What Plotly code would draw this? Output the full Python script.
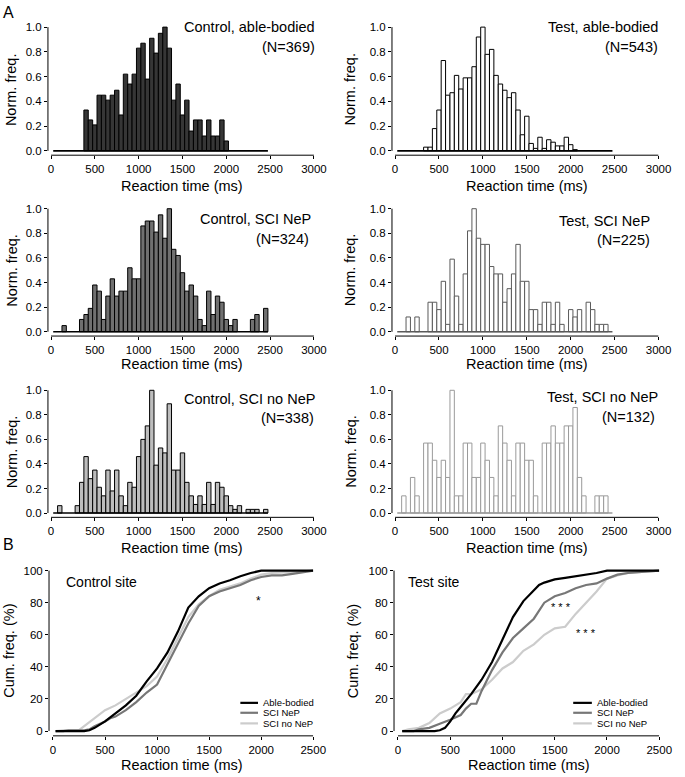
import plotly.graph_objects as go

W, H = 685, 777
FONT = "'Liberation Sans', Arial, Helvetica, sans-serif"

# ---------------- data ----------------
# histogram bin centres (ms), 50 ms bins
bin_centers = list(range(50, 2500, 50))

# normalised frequencies, 10 bins per row: 50-500, 550-1000, 1050-1500, 1550-2000, 2050-2450
ctrl_able = [0, 0, 0, 0, 0, 0, 0, .33, .25, .21,
             .45, .45, .41, .45, .49, .29, .62, .54, .62, .83,
             .87, .58, .91, .79, .95, 1.0, .83, .41, .54, .29,
             .41, .16, .25, .25, .12, .25, .12, .12, .25, .08,
             0, 0, 0, 0, 0, 0, 0, 0, 0]
test_able = [0, 0, 0, 0, 0, 0, .03, .03, .18, .33,
             .73, .45, .47, .61, .50, .59, .59, .68, .92, 1.0,
             .78, .82, .61, .54, .49, .43, .47, .33, .13, .28,
             .06, .02, .11, .02, .09, .07, .04, .04, .11, .05,
             .01, 0, 0, 0, 0, 0, 0, 0, 0]
ctrl_nep = [0, 0, .05, 0, 0, 0, .10, .14, .19, .38,
            .33, .10, .29, .43, .29, .33, .33, .52, .43, .43,
            .86, .90, .90, .81, .95, .76, 1.0, .67, .62, .48,
            .33, .38, .29, .10, .05, .33, .14, .29, .24, .10,
            .05, .10, 0, 0, 0, .10, .14, 0, .19]
test_nep = [0, 0, .12, 0, .12, 0, 0, .24, .24, .18,
            .41, .06, .59, .29, .06, .47, .82, 1.0, .76, .71,
            .71, .53, .47, .47, .24, .35, .47, .71, .41, .41,
            .18, .18, .06, .24, .24, .06, .24, .06, 0, .18,
            .12, .18, 0, .24, .18, .06, .06, .06, 0]
ctrl_nonep = [0, .06, 0, 0, 0, .06, .25, .46, .28, .35,
              .21, .14, .35, .18, .35, .14, .06, .25, .21, .46,
              .60, .71, 1.0, .39, .53, .49, .89, .35, .35, .49,
              .25, .14, .07, .14, .07, .25, .07, .25, .21, .14,
              .06, .03, .06, 0, .03, .03, .03, 0, .03]
test_nonep = [0, .14, 0, .29, .14, 0, .57, .57, .43, .29,
              .43, .29, 1.0, .14, .14, .57, .57, .29, .29, .57,
              .43, .29, .14, .71, .57, .43, .14, .57, .57, .43,
              .43, .14, 0, .57, .57, .71, .57, .57, .71, .71,
              .86, .29, .14, 0, 0, .14, .14, .14, 0]

hist_titles = ["Control, able-bodied", "Test, able-bodied",
               "Control, SCI NeP", "Test, SCI NeP",
               "Control, SCI no NeP", "Test, SCI no NeP"]
hist_n = ["(N=369)", "(N=543)", "(N=324)", "(N=225)", "(N=338)", "(N=132)"]

# cumulative frequency curves (%)
c_able_x = [25, 300, 350, 400, 500, 600, 700, 800, 900, 1000, 1100, 1200, 1300, 1400,
            1500, 1600, 1700, 1800, 1900, 2000, 2500]
c_able_y = [0, 0, 0.5, 2, 6, 11, 16, 22, 31, 39, 49, 62, 77, 84, 89, 92, 94, 96.5, 98.5, 100, 100]
c_nep_x = [25, 100, 150, 300, 350, 400, 500, 550, 600, 700, 800, 900, 1000, 1100, 1200,
           1300, 1400, 1500, 1600, 1700, 1800, 1900, 2000, 2100, 2200, 2300, 2400, 2500]
c_nep_y = [0, 0, 0.5, 0.5, 1, 3, 6, 8, 9, 13, 18, 24, 29, 42, 54, 67, 78, 84, 87, 89, 91,
           94, 96, 97, 97, 98, 99, 100]
c_nonep_x = [25, 100, 250, 300, 400, 500, 600, 700, 800, 900, 1000, 1100, 1200, 1300, 1400,
             1500, 1600, 1700, 1800, 1900, 2000, 2100, 2300, 2500]
c_nonep_y = [0, 0.5, 0.5, 3, 8, 13, 16, 20, 24, 28, 34, 45, 58, 71, 79, 84, 88, 90, 92, 95,
             97.5, 98.5, 99, 100]

t_able_x = [40, 350, 400, 450, 500, 550, 600, 700, 800, 900, 1000, 1100, 1200, 1300, 1350,
            1400, 1500, 1600, 1700, 1800, 1900, 2000, 2500]
t_able_y = [0, 0, 0.5, 2, 6, 11, 15, 23, 32, 43, 57, 71, 81, 88, 91, 92.5, 94.5, 95.5, 96.5,
            97.5, 98.5, 100, 100]
t_nep_x = [40, 150, 200, 300, 400, 500, 600, 650, 700, 750, 800, 900, 1000, 1100, 1200, 1300,
           1400, 1500, 1600, 1700, 1800, 1900, 2000, 2100, 2200, 2500]
t_nep_y = [0, 0, 1, 2, 4.5, 7, 10, 14, 17, 17, 25, 38, 49, 58, 64, 70, 80, 84, 86, 89, 91, 92,
           95, 97.5, 98.5, 100]
t_nonep_x = [40, 100, 200, 300, 400, 500, 600, 650, 700, 800, 900, 1000, 1100, 1200, 1300,
             1400, 1500, 1600, 1700, 1800, 1900, 2000, 2100, 2200, 2400, 2500]
t_nonep_y = [0, 1, 2, 5, 11, 14, 18, 23, 23, 26, 32, 39, 43, 50, 54, 60, 64, 65, 73, 80, 87,
             95, 97, 98.5, 99.5, 100]

group_names = ["Able-bodied", "SCI NeP", "SCI no NeP"]
hist_x_ticks = [0, 500, 1000, 1500, 2000, 2500, 3000]
hist_y_ticks = [0.0, 0.2, 0.4, 0.6, 0.8, 1.0]
cum_x_ticks = [0, 500, 1000, 1500, 2000, 2500]
cum_y_ticks = [0, 20, 40, 60, 80, 100]

# ---------------- styles / layout ----------------
hist_fill = ["#363636", "white", "#707070", "white", "#bdbdbd", "white"]
hist_line = ["black", "black", "black", "#5a5a5a", "black", "#9a9a9a"]
cum_colors = ["black", "#777777", "#cccccc"]
TICK_FS = 11.5
TITLE_FS = 14.5


def dom_x(p0, v0, p1, v1, r0, r1):
    s = (p1 - p0) / (v1 - v0)
    return [(p0 + (r0 - v0) * s) / W, (p0 + (r1 - v0) * s) / W]


def dom_y(p0, v0, p1, v1, r0, r1):
    s = (p1 - p0) / (v1 - v0)
    return [1 - (p0 + (r0 - v0) * s) / H, 1 - (p0 + (r1 - v0) * s) / H]


def ax_names(k):
    s = "" if k == 1 else str(k)
    return "x" + s, "y" + s, "xaxis" + s, "yaxis" + s


HXR = [-35, 3000]
HYR = [-0.035, 1.012]
col_px = [(52.0, 320.0), (402.7, 671.3)]          # pixel of 0 and 3000
row_px = [(148.0, 23.3), (330.3, 206.3), (513.0, 389.3)]  # pixel of 0.0 and 1.0
CXR = [-38, 2500]
CYR = [-3, 101.5]
cum_col_px = [(54.0, 319.3), (405.7, 672.0)]     # pixel of 0 and 2500
cum_row_px = (732.7, 571.0)                        # pixel of 0 and 100

fig = go.Figure()
layout = dict(width=W, height=H, margin=dict(l=0, r=0, t=0, b=0),
              paper_bgcolor="white", plot_bgcolor="white", showlegend=False,
              font=dict(family=FONT, color="black", size=12), barmode="overlay")
shapes = []
annotations = []


def axis_common(**kw):
    d = dict(showgrid=False, zeroline=False, showline=False, ticks="outside", ticklen=3,
             tickwidth=1, tickcolor="black", tickfont=dict(size=TICK_FS, family=FONT),
             fixedrange=True)
    d.update(kw)
    return d


hist_data = [ctrl_able, test_able, ctrl_nep, test_nep, ctrl_nonep, test_nonep]
for i, vals in enumerate(hist_data):
    k = i + 1
    col = i % 2
    row = i // 2
    xs = [c for c, v in zip(bin_centers, vals) if v > 0]
    ys = [v for v in vals if v > 0]
    xa, ya, xn, yn = ax_names(k)
    fig.add_trace(go.Scatter(x=[bin_centers[0] - 25, bin_centers[-1] + 25], y=[0, 0],
                             mode="lines", line=dict(color=hist_line[i], width=1.6),
                             xaxis=xa, yaxis=ya, hoverinfo="skip"))
    fig.add_trace(go.Bar(x=xs, y=ys, width=50, xaxis=xa, yaxis=ya,
                         marker=dict(color=hist_fill[i], line=dict(color=hist_line[i], width=1))))
    p0, p1 = col_px[col]
    q0, q1 = row_px[row]
    layout[xn] = axis_common(domain=dom_x(p0, 0, p1, 3000, *HXR), range=HXR,
                             anchor=ya, tickvals=hist_x_ticks)
    layout[yn] = axis_common(domain=dom_y(q0, 0, q1, 1.0, *HYR), range=HYR,
                             anchor=xa, tickvals=hist_y_ticks, tickformat=".1f")
    shapes.append(dict(type="line", xref=xa, yref=f"{ya} domain", x0=0, x1=3000, y0=0, y1=0,
                       line=dict(color="black", width=1)))
    shapes.append(dict(type="line", xref=f"{xa} domain", yref=ya, x0=0, x1=0, y0=0, y1=1.0,
                       line=dict(color="black", width=1)))

cum_sets = [
    [(c_able_x, c_able_y), (c_nep_x, c_nep_y), (c_nonep_x, c_nonep_y)],
    [(t_able_x, t_able_y), (t_nep_x, t_nep_y), (t_nonep_x, t_nonep_y)],
]
for j, sets in enumerate(cum_sets):
    k = 7 + j
    xa, ya, xn, yn = ax_names(k)
    for g in [2, 1, 0]:
        xv, yv = sets[g]
        fig.add_trace(go.Scatter(x=xv, y=yv, mode="lines", name=group_names[g],
                                 line=dict(color=cum_colors[g], width=2.2),
                                 xaxis=xa, yaxis=ya))
    p0, p1 = cum_col_px[j]
    layout[xn] = axis_common(domain=dom_x(p0, 0, p1, 2500, *CXR), range=CXR,
                             anchor=ya, tickvals=cum_x_ticks)
    layout[yn] = axis_common(domain=dom_y(cum_row_px[0], 0, cum_row_px[1], 100, *CYR),
                             range=CYR, anchor=xa, tickvals=cum_y_ticks)
    shapes.append(dict(type="line", xref=xa, yref=f"{ya} domain", x0=0, x1=2500, y0=0, y1=0,
                       line=dict(color="black", width=1)))
    shapes.append(dict(type="line", xref=f"{xa} domain", yref=ya, x0=0, x1=0, y0=0, y1=100,
                       line=dict(color="black", width=1)))


def px_ann(text, x, y, size=13, xanchor="center", yanchor="middle", angle=0):
    annotations.append(dict(text=text, x=x / W, y=1 - y / H, xref="paper", yref="paper",
                            showarrow=False, xanchor=xanchor, yanchor=yanchor, textangle=angle,
                            font=dict(size=size, family=FONT, color="black")))


# panel titles + N
title_pos = [(323, 22.7, 322.7, 43.3), (673, 22.7, 673, 43.3),
             (319, 216.7, 316.7, 236.7), (665, 218.3, 665, 238.3),
             (323, 398.3, 321.7, 417.7), (673, 395.7, 670, 416.7)]
for i in range(6):
    tx, ty, nx, ny = title_pos[i]
    px_ann(hist_titles[i], tx, ty, size=TITLE_FS, xanchor="right")
    px_ann(hist_n[i], nx, ny, size=TITLE_FS, xanchor="right")

# axis titles
for y in [183.5, 363, 548]:
    px_ann("Reaction time (ms)", 186, y, size=TITLE_FS)
    px_ann("Reaction time (ms)", 537, y, size=TITLE_FS)
for yc in [86, 268, 451]:
    px_ann("Norm. freq.", 12, yc, size=TITLE_FS, angle=-90)
    px_ann("Norm. freq.", 357, yc, size=TITLE_FS, angle=-90)
px_ann("Reaction time (ms)", 186, 767, size=TITLE_FS)
px_ann("Reaction time (ms)", 539, 767, size=TITLE_FS)
px_ann("Cum. freq. (%)", 9, 652, size=TITLE_FS, angle=-90)
px_ann("Cum. freq. (%)", 360, 652, size=TITLE_FS, angle=-90)

px_ann("A", 1, 9, size=16, xanchor="left")
px_ann("B", 1, 545, size=16, xanchor="left")
px_ann("Control site", 65, 582, size=14, xanchor="left")
px_ann("Test site", 414, 582, size=14, xanchor="left")
px_ann("*", 263, 602, size=12)
px_ann("* * *", 572, 608, size=11)
px_ann("* * *", 597, 634, size=11)

# legends
leg_rows = [704.3, 714.3, 725.0]
for lx0, lx1 in [(245, 263), (584.3, 603.3)]:
    for g in range(3):
        y = leg_rows[g]
        shapes.append(dict(type="line", xref="paper", yref="paper", x0=lx0 / W, x1=lx1 / W,
                           y0=1 - y / H, y1=1 - y / H,
                           line=dict(color=cum_colors[g], width=2.2)))
        px_ann(group_names[g], lx1 + 3.5, y, size=9.5, xanchor="left")

layout["shapes"] = shapes
layout["annotations"] = annotations
fig.update_layout(**layout)
fig.write_html("out.html", config={"displayModeBar": False},
               post_script="document.body.style.margin='0px';"
                           "document.body.style.overflow='hidden';")
